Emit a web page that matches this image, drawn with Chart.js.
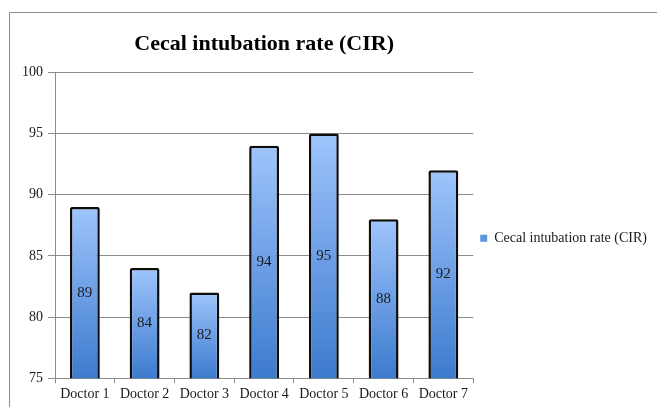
<!DOCTYPE html>
<html>
<head>
<meta charset="utf-8">
<script src="https://cdn.jsdelivr.net/npm/chart.js@4/dist/chart.umd.min.js"></script>
<style>
  html, body { margin: 0; padding: 0; background: #fff; overflow: hidden; }
  #wrap { position: relative; width: 657px; height: 407px; }
</style>
</head>
<body>
<div id="wrap"><canvas id="cir-chart" width="657" height="407"></canvas></div>
<script>
// Chart data
const doctors = ['Doctor 1', 'Doctor 2', 'Doctor 3', 'Doctor 4', 'Doctor 5', 'Doctor 6', 'Doctor 7'];
const cirValues = [89, 84, 82, 94, 95, 88, 92];
const seriesName = 'Cecal intubation rate (CIR)';
const yTicks = [75, 80, 85, 90, 95, 100];

const serif = "'Liberation Serif', 'DejaVu Serif', serif";

// Gray frame around the chart, open to the right/bottom like the screenshot
const framePlugin = {
  id: 'frame',
  beforeDraw(chart) {
    const ctx = chart.ctx;
    ctx.save();
    ctx.strokeStyle = '#8c8c8c';
    ctx.lineWidth = 1;
    ctx.beginPath();
    ctx.moveTo(9.5, chart.height);
    ctx.lineTo(9.5, 12.5);
    ctx.lineTo(chart.width, 12.5);
    ctx.stroke();
    ctx.restore();
  }
};

// Value labels in the middle of the visible part of each bar
const valueLabels = {
  id: 'valueLabels',
  afterDraw(chart) {
    const ctx = chart.ctx;
    const meta = chart.getDatasetMeta(0);
    const bottom = chart.chartArea.bottom;
    ctx.save();
    ctx.font = '15px ' + serif;
    ctx.fillStyle = '#1a1a1a';
    ctx.textAlign = 'center';
    ctx.textBaseline = 'middle';
    meta.data.forEach((bar, i) => {
      const p = bar.getProps(['x', 'y'], true);
      ctx.fillText(String(cirValues[i]), p.x, (p.y + bottom) / 2);
    });
    ctx.restore();
  }
};

// Per-bar vertical gradient, light at the top
function barGradient(context) {
  const chart = context.chart;
  if (!chart.chartArea) return '#6a9ee6';
  const yScale = chart.scales.y;
  const top = yScale.getPixelForValue(cirValues[context.dataIndex]);
  const bottom = chart.chartArea.bottom;
  const g = chart.ctx.createLinearGradient(0, top, 0, bottom);
  g.addColorStop(0, '#9fc5fb');
  g.addColorStop(0.5, '#6d9fe6');
  g.addColorStop(1, '#3d7bcd');
  return g;
}

new Chart(document.getElementById('cir-chart').getContext('2d'), {
  type: 'bar',
  data: {
    labels: doctors,
    datasets: [{
      label: seriesName,
      data: cirValues,
      backgroundColor: barGradient,
      borderColor: '#0d0d0d',
      borderWidth: 2.5,
      borderRadius: 2,
      borderSkipped: 'bottom',
      categoryPercentage: 0.5,
      barPercentage: 1.0
    }]
  },
  options: {
    responsive: false,
    animation: false,
    layout: { padding: { left: 17, right: 0, top: 0, bottom: 1 } },
    scales: {
      x: {
        grid: {
          offset: true,
          drawOnChartArea: false,
          drawTicks: true,
          tickLength: 5,
          color: '#8c8c8c'
        },
        border: { color: '#8c8c8c' },
        ticks: {
          font: { family: serif, size: 14 },
          color: '#1a1a1a',
          padding: 3,
          maxRotation: 0
        }
      },
      y: {
        min: 75,
        max: 100,
        afterBuildTicks(axis) {
          axis.ticks = yTicks.map(v => ({ value: v }));
        },
        grid: {
          color: '#8c8c8c',
          tickLength: 7
        },
        border: { color: '#8c8c8c' },
        ticks: {
          font: { family: serif, size: 14 },
          color: '#1a1a1a',
          padding: 5
        }
      }
    },
    plugins: {
      title: {
        display: true,
        fullSize: false,
        text: seriesName,
        font: { family: serif, size: 22, weight: 'bold' },
        color: '#000',
        padding: { top: 31, bottom: 15 }
      },
      legend: {
        position: 'right',
        maxWidth: 200,
        // empty title only pushes the single entry down a bit
        title: { display: true, text: '', font: { size: 12 }, padding: { top: 0, bottom: 56 } },
        labels: {
          boxWidth: 7,
          boxHeight: 7,
          padding: 7,
          font: { family: serif, size: 14 },
          color: '#1a1a1a',
          generateLabels(chart) {
            return [{
              text: seriesName,
              fillStyle: '#5f95df',
              strokeStyle: '#5f95df',
              fontColor: '#1a1a1a',
              lineWidth: 0,
              datasetIndex: 0
            }];
          }
        }
      },
      tooltip: { enabled: false }
    }
  },
  plugins: [framePlugin, valueLabels]
});
</script>
</body>
</html>
